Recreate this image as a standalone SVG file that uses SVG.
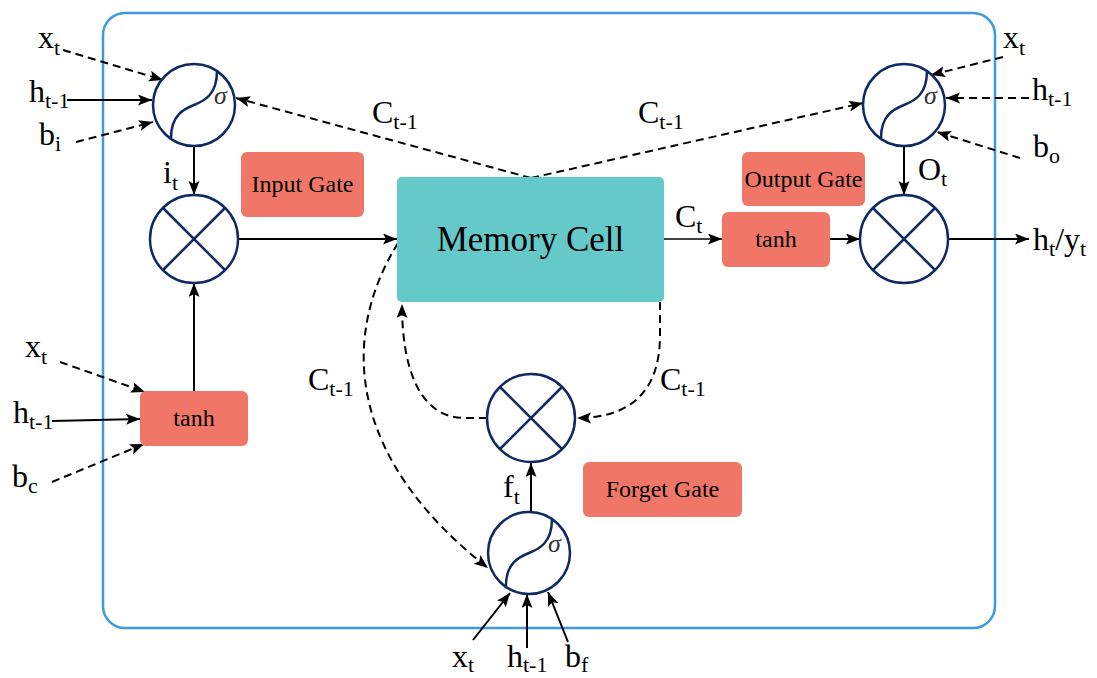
<svg xmlns="http://www.w3.org/2000/svg" xmlns:xlink="http://www.w3.org/1999/xlink" width="1097" height="678" viewBox="0 0 1097 678">
  <style>
    .frame { fill: none; stroke: #3d9ae0; stroke-width: 2.5; }
    .gate { fill: #f07767; }
    .cell { fill: #65c9ca; }
    .op { fill: #ffffff; stroke: #0f2a62; stroke-width: 2.5; }
    .opline { fill: none; stroke: #0f2a62; stroke-width: 2.5; }
    .wire { fill: none; stroke: #000; stroke-width: 2; }
    .thin { fill: none; stroke: #000; stroke-width: 1.3; }
    .dash { fill: none; stroke: #000; stroke-width: 2; stroke-dasharray: 8 5; }
    text { fill: #000; }
    .lbl { font-size: 32px; }
    .sub { font-size: 22px; }
    .box { font-size: 24px; text-anchor: middle; }
    .big { font-size: 35px; text-anchor: middle; }
    .sig { font-size: 26px; font-style: italic; fill: #333; }
  </style>
  <defs>
    <marker id="arr" markerUnits="userSpaceOnUse" markerWidth="15" markerHeight="12" refX="14" refY="5.5" orient="auto">
      <path d="M0,0 L14,5.5 L0,11 L3,5.5 z" fill="#000" stroke="none"/>
    </marker>
    <!-- sigmoid activation symbol -->
    <g id="sigmoid">
      <circle cx="0" cy="0" r="41" class="op"/>
      <path d="M 23 -34 C 23 -10, 10 -4, 0 0 S -23 10, -23 33" class="opline"/>
    </g>
    <!-- element-wise multiplication symbol -->
    <g id="mult">
      <circle cx="0" cy="0" r="44" class="op"/>
      <path d="M -31 -31 L 31 31 M 31 -31 L -31 31" class="opline"/>
    </g>
  </defs>

  <rect class="frame" x="103" y="13" width="892" height="615" rx="22"/>

  <g id="connectors">
    <!-- input gate inputs -->
    <line class="dash" x1="63" y1="50" x2="163" y2="80" marker-end="url(#arr)"/>
    <line class="wire" x1="67" y1="100" x2="152" y2="100" marker-end="url(#arr)"/>
    <line class="dash" x1="76" y1="142" x2="153" y2="122" marker-end="url(#arr)"/>
    <line class="wire" x1="194" y1="146" x2="194" y2="195" marker-end="url(#arr)"/>
    <line class="wire" x1="238" y1="239" x2="397" y2="239" marker-end="url(#arr)"/>
    <!-- candidate inputs -->
    <line class="dash" x1="60" y1="362" x2="145" y2="392" marker-end="url(#arr)"/>
    <line class="wire" x1="52" y1="421" x2="140" y2="419" marker-end="url(#arr)"/>
    <line class="dash" x1="52" y1="482" x2="144" y2="444" marker-end="url(#arr)"/>
    <line class="wire" x1="194" y1="391" x2="194" y2="283" marker-end="url(#arr)"/>
    <!-- previous cell state to sigmoid gates -->
    <line class="dash" x1="531" y1="178" x2="236" y2="98" marker-end="url(#arr)"/>
    <line class="dash" x1="531" y1="178" x2="863" y2="103" marker-end="url(#arr)"/>
    <!-- output gate inputs -->
    <line class="dash" x1="1003" y1="57" x2="931" y2="75" marker-end="url(#arr)"/>
    <line class="dash" x1="1029" y1="98" x2="946" y2="98" marker-end="url(#arr)"/>
    <line class="dash" x1="1020" y1="158" x2="937" y2="132" marker-end="url(#arr)"/>
    <line class="wire" x1="904" y1="146" x2="904" y2="195" marker-end="url(#arr)"/>
    <!-- cell output path -->
    <line class="thin" x1="664" y1="239" x2="722" y2="239" marker-end="url(#arr)"/>
    <line class="wire" x1="830" y1="239" x2="860" y2="239" marker-end="url(#arr)"/>
    <line class="wire" x1="948" y1="239" x2="1029" y2="239" marker-end="url(#arr)"/>
    <!-- forget gate loop -->
    <path class="dash" d="M 660 302 L 660 335 C 660 392, 630 418, 577 418" marker-end="url(#arr)"/>
    <path class="dash" d="M 487 418 L 465 418 C 420 418, 402 370, 402 304" marker-end="url(#arr)"/>
    <path class="dash" d="M 398 243 C 338 340, 350 460, 488 568" marker-end="url(#arr)"/>
    <line class="wire" x1="531" y1="511" x2="531" y2="463" marker-end="url(#arr)"/>
    <!-- forget gate inputs -->
    <line class="wire" x1="473" y1="640" x2="510" y2="593" marker-end="url(#arr)"/>
    <line class="wire" x1="527" y1="648" x2="527" y2="594" marker-end="url(#arr)"/>
    <line class="wire" x1="568" y1="642" x2="548" y2="592" marker-end="url(#arr)"/>
  </g>

  <g font-family="'Liberation Serif', 'Times New Roman', 'DejaVu Serif', serif">
  <g id="input-sigmoid">
    <use xlink:href="#sigmoid" x="194" y="105"/>
    <text class="sig" x="214" y="104">σ</text>
  </g>
  <g id="input-mult">
    <use xlink:href="#mult" x="194" y="239"/>
  </g>
  <g id="input-gate">
    <rect class="gate" x="241" y="152" width="123" height="65" rx="6"/>
    <text class="box" x="302.5" y="192">Input Gate</text>
  </g>
  <g id="candidate-tanh">
    <rect class="gate" x="140" y="391" width="108" height="55" rx="6"/>
    <text class="box" x="194" y="426">tanh</text>
  </g>
  <g id="memory-cell">
    <rect class="cell" x="397" y="177" width="267" height="125" rx="5"/>
    <text class="big" x="530.5" y="251">Memory Cell</text>
  </g>
  <g id="output-sigmoid">
    <use xlink:href="#sigmoid" x="904" y="105"/>
    <text class="sig" x="924" y="104">σ</text>
  </g>
  <g id="output-gate">
    <rect class="gate" x="742" y="152" width="123" height="54" rx="6"/>
    <text class="box" x="803.5" y="187">Output Gate</text>
  </g>
  <g id="output-tanh">
    <rect class="gate" x="722" y="212" width="108" height="55" rx="6"/>
    <text class="box" x="776" y="247">tanh</text>
  </g>
  <g id="output-mult">
    <use xlink:href="#mult" x="904" y="239"/>
  </g>
  <g id="forget-mult">
    <use xlink:href="#mult" x="531" y="418"/>
  </g>
  <g id="forget-sigmoid">
    <use xlink:href="#sigmoid" x="529" y="553"/>
    <text class="sig" x="548" y="552">σ</text>
  </g>
  <g id="forget-gate">
    <rect class="gate" x="583" y="462" width="159" height="55" rx="6"/>
    <text class="box" x="662.5" y="497">Forget Gate</text>
  </g>

  <g id="labels">
    <text class="lbl" x="38" y="48">x<tspan class="sub" dy="7">t</tspan></text>
    <text class="lbl" x="29" y="102">h<tspan class="sub" dy="6">t-1</tspan></text>
    <text class="lbl" x="39" y="145">b<tspan class="sub" dy="6">i</tspan></text>
    <text class="lbl" x="163" y="183">i<tspan class="sub" dy="7">t</tspan></text>
    <text class="lbl" x="372" y="123">C<tspan class="sub" dy="6">t-1</tspan></text>
    <text class="lbl" x="638" y="123">C<tspan class="sub" dy="6">t-1</tspan></text>
    <text class="lbl" x="1003" y="48">x<tspan class="sub" dy="7">t</tspan></text>
    <text class="lbl" x="1032" y="100">h<tspan class="sub" dy="6">t-1</tspan></text>
    <text class="lbl" x="1033" y="157">b<tspan class="sub" dy="6">o</tspan></text>
    <text class="lbl" x="918" y="180">O<tspan class="sub" dy="6">t</tspan></text>
    <text class="lbl" x="675" y="227">C<tspan class="sub" dy="6">t</tspan></text>
    <text class="lbl" x="1033" y="250">h<tspan class="sub" dy="6">t</tspan><tspan dy="-6">/y</tspan><tspan class="sub" dy="6">t</tspan></text>
    <text class="lbl" x="25" y="357">x<tspan class="sub" dy="7">t</tspan></text>
    <text class="lbl" x="13" y="423">h<tspan class="sub" dy="6">t-1</tspan></text>
    <text class="lbl" x="12" y="487">b<tspan class="sub" dy="6">c</tspan></text>
    <text class="lbl" x="308" y="390">C<tspan class="sub" dy="6">t-1</tspan></text>
    <text class="lbl" x="660" y="390">C<tspan class="sub" dy="6">t-1</tspan></text>
    <text class="lbl" x="503" y="497">f<tspan class="sub" dy="7">t</tspan></text>
    <text class="lbl" x="452" y="667">x<tspan class="sub" dy="5">t</tspan></text>
    <text class="lbl" x="507" y="667">h<tspan class="sub" dy="5">t-1</tspan></text>
    <text class="lbl" x="565" y="667">b<tspan class="sub" dy="5">f</tspan></text>
  </g>
  </g>
</svg>
